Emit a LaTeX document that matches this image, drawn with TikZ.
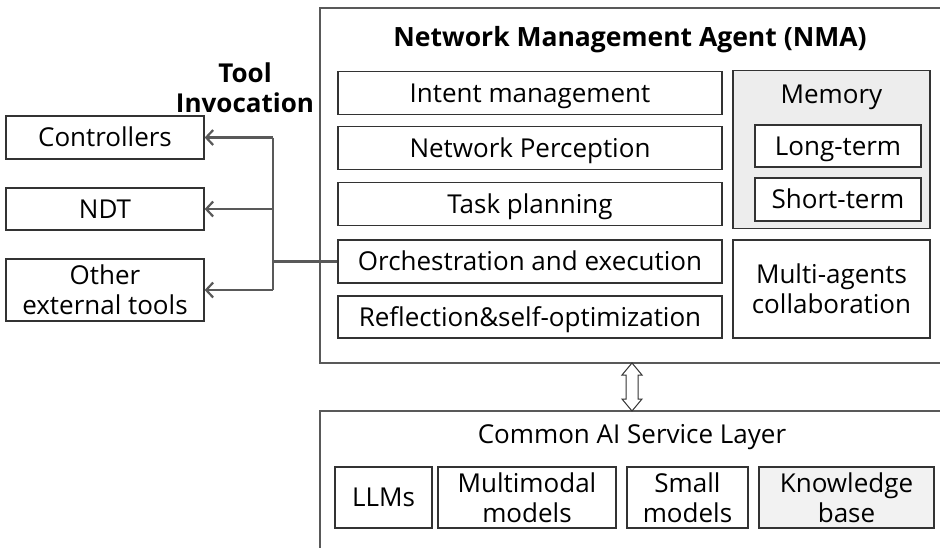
\documentclass[tikz,border=0pt]{standalone}
\usepackage{fontspec}
\setmainfont{Open Sans}
\usetikzlibrary{arrows.meta}

\def\fsz{\fontsize{26}{30}\selectfont}

\tikzset{
  blk/.style={draw=black!80, line width=1.3pt, inner sep=0pt, align=center, font=\fsz},
  grayblk/.style={blk, fill=black!7},
  oneline/.style={text height=18.5pt, text depth=0pt},
  frame/.style={draw=black!65, line width=2.2pt},
  conn/.style={draw=black!65, line width=2.2pt},
}

\begin{document}
\begin{tikzpicture}[x=1pt,y=-1pt]
  \useasboundingbox (0,0) rectangle (940,547);
  % outer frames, cut by the picture border
  \begin{scope}
    \clip (0,0) rectangle (940,547);
    \draw[frame] (320,8) rectangle (970,363);
    \draw[frame] (320,411) rectangle (970,600);
  \end{scope}
  % NMA
  \node[font=\bfseries\fontsize{26.5}{30}\selectfont, oneline, inner sep=0pt] (nma) at (630,37) {Network Management Agent (NMA)};
  \node[blk, oneline, minimum width=384, minimum height=43] (intent) at (530,93) {Intent management};
  \node[blk, oneline, minimum width=384, minimum height=43] (percep) at (530,148) {Network Perception};
  \node[blk, oneline, minimum width=384, minimum height=43] (task) at (530,204) {Task planning};
  \node[blk, oneline, minimum width=384, minimum height=43] (orch) at (530,261.5) {Orchestration and execution};
  \node[blk, oneline, minimum width=384, minimum height=42] (refl) at (530,317) {Reflection\&self-optimization};
  % memory
  \node[grayblk, minimum width=197, minimum height=158] (mem) at (831.5,149.5) {};
  \node[font=\fsz, oneline, inner sep=0pt] (memlbl) at (831.5,94) {Memory};
  \node[blk, oneline, fill=white, minimum width=166, minimum height=42] (long) at (838,146) {Long-term};
  \node[blk, oneline, fill=white, minimum width=166, minimum height=43] (short) at (838,199.5) {Short-term};
  \node[blk, minimum width=197, minimum height=98] (multi) at (831.5,289) {Multi-agents\\collaboration};
  % external tools
  \node[font=\bfseries\fsz, align=center] (tool) at (245,88) {Tool\\Invocation};
  \node[blk, oneline, minimum width=198, minimum height=43] (ctrl) at (105,137.5) {Controllers};
  \node[blk, oneline, minimum width=198, minimum height=42] (ndt) at (105,209) {NDT};
  \node[blk, minimum width=198, minimum height=62] (other) at (105,290) {Other\\external tools};
  \coordinate (bus) at (273,261.5);
  \draw[conn] (orch.west) -- (bus);
  \draw[conn] (bus |- ctrl.east) -- (bus |- other.east);
  \foreach \t in {ctrl,ndt,other}
    \draw[conn, -{Straight Barb[length=7pt,width=15pt]}] (bus |- \t.east) -- (\t.east);
  % double arrow between layers
  \coordinate (up) at (632,363);
  \draw[black!80, line width=1pt, fill=white] (up) -- ++(10,12) -- ++(-4,0) -- ++(0,24) -- ++(4,0)
    -- ++(-10,12) -- ++(-10,-12) -- ++(4,0) -- ++(0,-24) -- ++(-4,0) -- cycle;
  % common AI service layer
  \node[font=\fsz, oneline, inner sep=0pt] (ailayer) at (632,434) {Common AI Service Layer};
  \node[blk, oneline, minimum width=97, minimum height=61] (llm) at (383.5,497.5) {LLMs};
  \node[blk, minimum width=178, minimum height=61] (mmm) at (527,497.5) {Multimodal\\models};
  \node[blk, minimum width=121, minimum height=61] (small) at (687.5,497.5) {Small\\models};
  \node[grayblk, fill=black!5, minimum width=175, minimum height=61] (kb) at (846.5,497.5) {Knowledge\\base};
\end{tikzpicture}
\end{document}
